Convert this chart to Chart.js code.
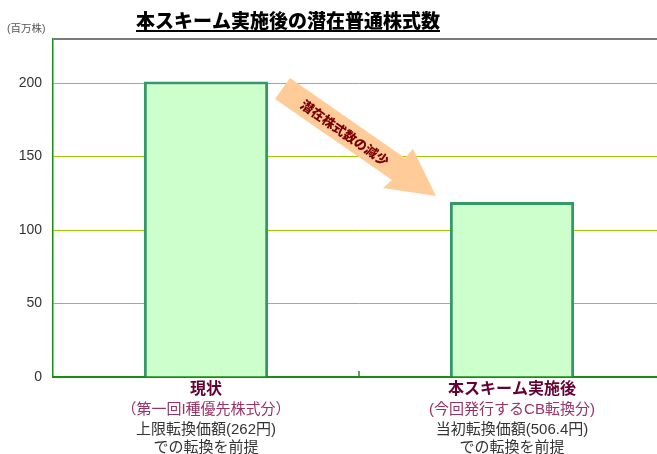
<!DOCTYPE html>
<html lang="ja">
<head>
    <meta charset="UTF-8">
    <title>本スキーム実施後の潜在普通株式数</title>
    <script src="https://cdn.jsdelivr.net/npm/chart.js"></script>
    <style>
        html, body { margin: 0; padding: 0; background: #fff; overflow: hidden; }
        .wrap { width: 665px; height: 454px; position: relative; }
    </style>
</head>
<body>
    <div class="wrap"><canvas id="chart"></canvas></div>

    <script>
        // data
        const categories = ['現状', '本スキーム実施後'];
        const subLabels = ['（第一回I種優先株式分）', '(今回発行するCB転換分)'];
        const noteLines1 = ['上限転換価額(262円)', '当初転換価額(506.4円)'];
        const noteLines2 = ['での転換を前提', 'での転換を前提'];
        const shares = [201, 119];   // 百万株
        const yMax = 230;
        const yStep = 50;

        const titleText = '本スキーム実施後の潜在普通株式数';
        const unitText = '(百万株)';
        const arrowText = '潜在株式数の減少';

        const FONT = "'Liberation Sans', 'Noto Sans CJK JP', sans-serif";

        // title, unit, category labels and the arrow annotation
        const decorations = {
            id: 'decorations',
            afterDraw(chart) {
                const ctx = chart.ctx;
                const x = chart.scales.x;
                const area = chart.chartArea;
                ctx.save();

                // title with underline
                ctx.font = "900 19px " + FONT;
                ctx.fillStyle = '#000';
                ctx.textAlign = 'center';
                ctx.textBaseline = 'alphabetic';
                const tx = 288, ty = 28;
                ctx.fillText(titleText, tx, ty);
                const w = ctx.measureText(titleText).width;
                ctx.fillRect(tx - w / 2, ty + 2, w, 2);

                // unit
                ctx.font = "10.5px " + FONT;
                ctx.fillStyle = '#555';
                ctx.textAlign = 'left';
                ctx.textBaseline = 'middle';
                ctx.fillText(unitText, 7, 29);

                // tick mark between categories on the bottom axis
                const mid = (x.getPixelForValue(0) + x.getPixelForValue(1)) / 2;
                ctx.strokeStyle = '#1a8c1a';
                ctx.lineWidth = 1.5;
                ctx.beginPath();
                ctx.moveTo(mid, area.bottom);
                ctx.lineTo(mid, area.bottom - 6);
                ctx.stroke();

                // category labels
                ctx.textAlign = 'center';
                ctx.textBaseline = 'middle';
                categories.forEach((c, i) => {
                    const cx = x.getPixelForValue(i);
                    ctx.font = "bold 16px " + FONT;
                    ctx.fillStyle = '#660033';
                    ctx.fillText(c, cx, 390);
                    ctx.font = "15px " + FONT;
                    ctx.fillStyle = '#993366';
                    ctx.fillText(subLabels[i], cx, 410);
                    ctx.fillStyle = '#333';
                    ctx.fillText(noteLines1[i], cx, 430);
                    ctx.fillText(noteLines2[i], cx, 448);
                });

                // arrow annotation
                ctx.fillStyle = '#ffcc99';
                ctx.beginPath();
                ctx.moveTo(290, 78);
                ctx.lineTo(405, 158);
                ctx.lineTo(413, 149);
                ctx.lineTo(436, 196);
                ctx.lineTo(383, 188);
                ctx.lineTo(392, 180);
                ctx.lineTo(275, 99);
                ctx.closePath();
                ctx.fill();

                ctx.translate(344, 134);
                ctx.rotate(35 * Math.PI / 180);
                ctx.font = "900 13px " + FONT;
                ctx.fillStyle = '#7a0000';
                ctx.fillText(arrowText, 0, 0);

                ctx.restore();
            }
        };

        new Chart(document.getElementById('chart'), {
            type: 'bar',
            data: {
                labels: categories,
                datasets: [{
                    data: shares,
                    backgroundColor: '#ccffcc',
                    borderColor: '#339966',
                    borderWidth: 3,
                    barPercentage: 0.406,
                    categoryPercentage: 1
                }]
            },
            options: {
                responsive: true,
                maintainAspectRatio: false,
                animation: false,
                layout: { padding: { top: 39, left: 0, right: 0, bottom: 0 } },
                plugins: { legend: { display: false }, tooltip: { enabled: false } },
                scales: {
                    x: {
                        ticks: { display: false },
                        grid: { drawOnChartArea: false, drawTicks: false },
                        border: { color: '#1a8c1a', width: 2 },
                        afterFit(s) { s.height = 77; }
                    },
                    y: {
                        min: 0,
                        max: yMax,
                        ticks: {
                            stepSize: yStep,
                            color: '#333',
                            font: { size: 14, family: FONT },
                            padding: 6,
                            callback: v => (v % yStep === 0 ? v : '')
                        },
                        grid: {
                            color: c => c.tick.value === yMax ? '#7a7a7a' : (c.tick.value === 0 ? 'rgba(0,0,0,0)' : '#99cc00'),
                            lineWidth: c => c.tick.value === yMax ? 2 : 1,
                            tickColor: 'rgba(0,0,0,0)',
                            tickLength: 5
                        },
                        border: { color: '#1a8c1a', width: 1.5 },
                        afterFit(s) { s.width = 53; }
                    }
                }
            },
            plugins: [decorations]
        });
    </script>
</body>
</html>
